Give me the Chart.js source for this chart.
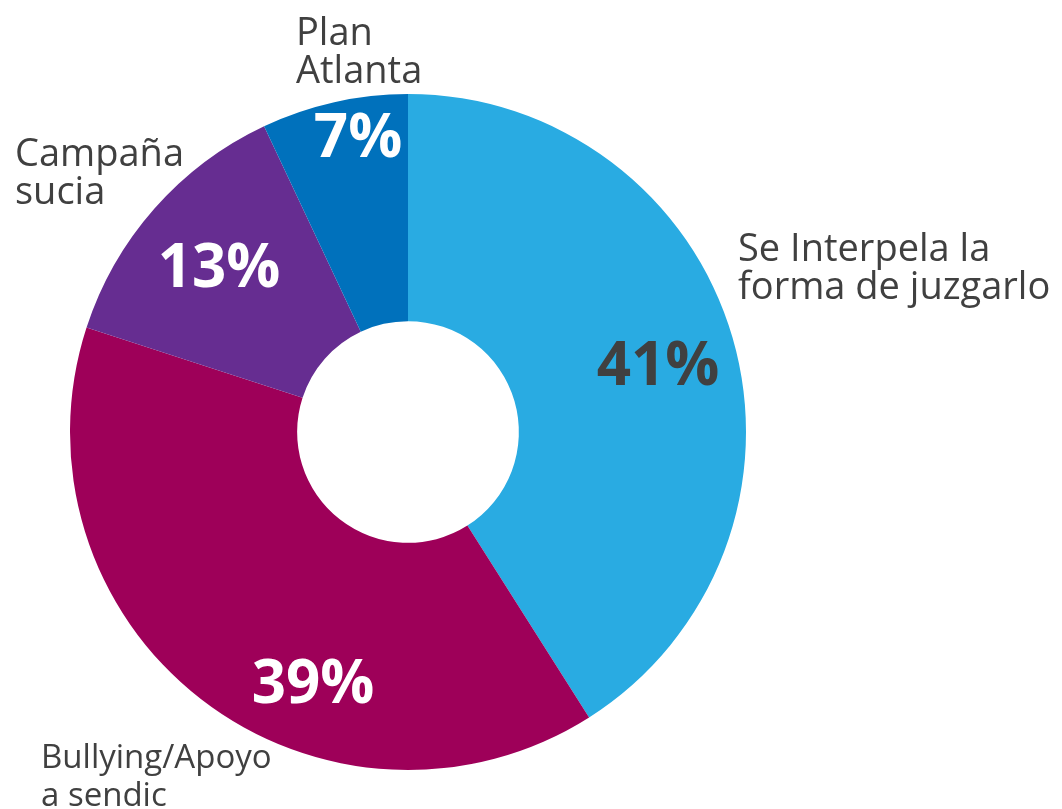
<!DOCTYPE html>
<html>
<head>
<meta charset="utf-8">
<script src="https://cdn.jsdelivr.net/npm/chart.js@4"></script>
<style>
  html, body { margin: 0; padding: 0; background: #fff; }
  #wrap { width: 1062px; height: 809px; position: relative; }
</style>
</head>
<body>
<div id="wrap"><canvas id="chart"></canvas></div>
<script>
// datos
const categories = [
  ["Se Interpela la", "forma de juzgarlo"],
  ["Bullying/Apoyo", "a sendic"],
  ["Campaña", "sucia"],
  ["Plan", "Atlanta"]
];
const values = [41, 39, 13, 7];
const colors = ["#29ABE2", "#9E0059", "#662D91", "#0071BC"];
const pctColors = ["#404040", "#ffffff", "#ffffff", "#ffffff"];

// posiciones de textos (relativas al centro del anillo)
const pctOffsets = [[250, -47], [-95, 271], [-189, -145], [-50, -275]];
const nameAnchors = [[738, 261], [41, 768], [15, 166], [296, 45]];
const nameSizes = [38, 33, 38, 38];

const textColor = "#404040";

const labelsPlugin = {
  id: "labels",
  afterDatasetsDraw(chart) {
    const ctx = chart.ctx;
    const arcs = chart.getDatasetMeta(0).data;
    ctx.save();
    arcs.forEach((arc, i) => {
      // porcentaje dentro del anillo
      ctx.font = "bold 60px 'Open Sans'";
      ctx.fillStyle = pctColors[i];
      ctx.textAlign = "center";
      ctx.textBaseline = "alphabetic";
      ctx.fillText(values[i] + "%", arc.x + pctOffsets[i][0], arc.y + pctOffsets[i][1]);

      // nombre de la categoria
      ctx.font = nameSizes[i] + "px 'Open Sans'";
      ctx.fillStyle = textColor;
      ctx.textAlign = "left";
      categories[i].forEach((line, j) => {
        ctx.fillText(line, nameAnchors[i][0], nameAnchors[i][1] + j * 38);
      });
    });
    ctx.restore();
  }
};

new Chart(document.getElementById("chart"), {
  type: "doughnut",
  data: {
    labels: categories.map(c => c.join(" ")),
    datasets: [{
      data: values,
      backgroundColor: colors,
      borderWidth: 0
    }]
  },
  options: {
    responsive: true,
    maintainAspectRatio: false,
    animation: false,
    cutout: "32.8%",
    layout: { padding: { left: 70, right: 316, top: 94, bottom: 39 } },
    plugins: {
      legend: { display: false },
      tooltip: { enabled: false }
    }
  },
  plugins: [labelsPlugin]
});
</script>
</body>
</html>
